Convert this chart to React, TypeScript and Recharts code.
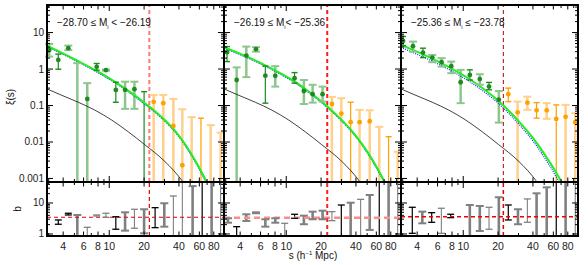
import React from 'react';
import { ComposedChart, XAxis, YAxis, Line, Scatter, ReferenceLine, ReferenceDot } from 'recharts';

type Pt = [number, number | null, number, number]; // [s, xi (null = below axis), lower, upper]
type Rng = [number, number, number]; // [s, lower, upper]
type Cv = [number, number][];

// ---------- axes ----------
const S_DOMAIN: [number, number] = [2.9, 98];
const XI_DOMAIN: [number, number] = [0.0008, 57];
const B_DOMAIN: [number, number] = [0.86, 47.5];
const sTicks = [3, 4, 5, 6, 7, 8, 9, 10, 20, 30, 40, 50, 60, 70, 80, 90];
const sTickLabels = [4, 6, 8, 10, 20, 40, 60, 80];
const xiTicks = [
  0.001, 0.002, 0.003, 0.004, 0.005, 0.006, 0.007, 0.008, 0.009,
  0.01, 0.02, 0.03, 0.04, 0.05, 0.06, 0.07, 0.08, 0.09,
  0.1, 0.2, 0.3, 0.4, 0.5, 0.6, 0.7, 0.8, 0.9,
  1, 2, 3, 4, 5, 6, 7, 8, 9, 10, 20, 30, 40, 50,
];
const xiTickLabels = [0.001, 0.01, 0.1, 1, 10];
const bTicks = [1, 2, 3, 4, 5, 6, 7, 8, 9, 10, 20, 30, 40];
const bTickLabels = [1, 10];

// ---------- model curves ----------
const curveS = [2.9, 3.98, 5.62, 7.94, 11.22, 15.85, 19.95, 25.1, 31.6, 39.8, 50.1, 63.1, 72.4];
const p1Model = [4.4, 2.69, 1.545, 0.859, 0.446, 0.212, 0.1205, 0.0678, 0.0348, 0.0152, 0.00526, 0.00145, 0.000598];
const p1ModelAlt = [4.2, 2.57, 1.47, 0.815, 0.423, 0.2, 0.114, 0.064, 0.0328, 0.0143, 0.0049, 0.00134, 0.00055];
const p2Model = [3.98, 2.64, 1.63, 0.935, 0.502, 0.235, 0.132, 0.0701, 0.0344, 0.015, 0.00545, 0.00161, 0.000701];
const p2ModelAlt = [3.8, 2.52, 1.55, 0.89, 0.477, 0.223, 0.125, 0.0665, 0.0326, 0.0142, 0.0051, 0.0015, 0.00065];
const p3Model = [4.6, 3.0, 1.815, 1.028, 0.542, 0.249, 0.137, 0.0686, 0.0313, 0.0131, 0.00474, 0.0015, 0.00069];
const p3ModelAlt = [3.9, 2.55, 1.55, 0.88, 0.465, 0.213, 0.117, 0.058, 0.0263, 0.0109, 0.0038, 0.00115, 0.0005];
const blackCurve: Cv = [[2.9, 0.285], [3.9, 0.19], [5.4, 0.123], [7.5, 0.075], [10.5, 0.04], [14.6, 0.019], [20.2, 0.0085], [30.3, 0.0029], [42.2, 0.0009], [48, 0.0005]];

// ---------- xi(s) measurements ----------
const p1DarkGreen: Pt[] = [[3.63, 1.78, 0.99, 2.57], [7.79, 1.15, 0.93, 1.42], [11.4, 0.268, 0.123, 0.435], [20.0, null, 0.0001, 0.24]];
const p1LightGreen: Pt[] = [[3.03, 3.35, 2.2, 4.9], [4.43, 3.73, 3.3, 4.4], [5.3, null, 0.0001, 1.45], [6.46, 0.152, 0.0001, 0.41], [9.37, 0.93, 0.9, 0.97], [13.7, 0.27, 0.081, 0.45], [16.5, 0.28, 0.081, 0.45]];
const p1Orange: Pt[] = [[62, null, 0.0001, 0.045]];
const p1LightOrange: Pt[] = [[24.2, 0.126, 0.0001, 0.195], [29.3, 0.116, 0.0001, 0.195], [35.8, 0.0275, 0.0001, 0.152], [42.8, 0.0023, 0.0001, 0.079], [51.5, null, 0.0001, 0.048], [75.2, null, 0.0001, 0.029], [91.6, null, 0.0001, 0.018]];

const p2DarkGreen: Pt[] = [[3.08, 2.9, 1.6, 4.13], [6.6, 0.66, 0.116, 1.2], [11.8, 0.56, 0.41, 0.8]];
const p2LightGreen: Pt[] = [[3.73, 0.5, 0.0001, 1.11], [4.52, 2.34, 0.6, 4.13], [5.48, 3.5, 3.0, 3.98], [8.04, 0.65, 0.33, 1.2], [14.2, 0.25, 0.11, 0.5], [16.9, 0.204, 0.12, 0.37], [20.6, 0.204, 0.128, 0.33]];
const p2Orange: Pt[] = [[36, 0.035, 0.0001, 0.123], [76.6, null, 0.0001, 0.014]];
const p2LightOrange: Pt[] = [[24.8, 0.11, 0.0001, 0.172], [29.9, 0.06, 0.0001, 0.158], [43, 0.035, 0.0001, 0.076], [52.6, 0.037, 0.0001, 0.074], [63.6, null, 0.0001, 0.026], [91.7, null, 0.0001, 0.0054]];

const p3DarkGreen: Pt[] = [[3.02, 5.9, 4.4, 7.8], [4.49, 2.83, 2.06, 3.73], [11.4, 0.69, 0.5, 0.95], [16.7, 0.33, 0.27, 0.43]];
const p3LightGreen: Pt[] = [[3.68, 4.24, 3.0, 5.66], [5.4, 2.06, 1.54, 2.44], [6.5, 1.54, 1.17, 1.99], [7.88, 1.2, 0.77, 1.6], [9.5, 0.435, 0.116, 0.95], [13.9, 0.53, 0.37, 0.72], [20.3, 0.145, 0.034, 0.25]];
const p3Orange: Pt[] = [[24.5, 0.204, 0.128, 0.3], [43, 0.074, 0.045, 0.12], [63.6, 0.043, 0.0001, 0.104]];
const p3LightOrange: Pt[] = [[29.5, 0.065, 0.0001, 0.128], [35.8, 0.12, 0.076, 0.175], [52.6, 0.074, 0.043, 0.116], [76.6, 0.049, 0.0001, 0.104], [92.8, 0.035, 0.0001, 0.0615]];

// ---------- bias b(s) ranges ----------
const p1bBlack: Rng[] = [[3.63, 2.06, 2.83], [4.43, 4.1, 4.66], [11.4, 1.42, 3.6], [24.9, 1.6, 7.06], [63.5, 0.5, 100]];
const p1bGrayThick: Rng[] = [[5.3, 0.5, 4.1], [13.7, 1.28, 5.0], [20, 1.05, 6.27], [29.9, 1.72, 9.8], [52.5, 0.5, 35], [76.6, 0.5, 100]];
const p1bGrayThin: Rng[] = [[6.46, 0.5, 1.64], [7.79, 3.8, 4.1], [9.37, 3.45, 4.66], [16.5, 1.53, 6.27], [35.8, 0.5, 16.8], [42.8, 0.5, 100], [91.6, 0.5, 100]];

const p2bBlack: Rng[] = [[3.73, 0.5, 1.72], [11.8, 3.21, 4.32], [29.9, 0.5, 8.6], [63.6, 0.5, 100]];
const p2bGrayThick: Rng[] = [[3.14, 2.31, 3.21], [4.52, 2.63, 4.32], [5.48, 4.66, 5.0], [6.6, 1.72, 2.98], [8.04, 2.31, 3.21], [14.2, 2.06, 3.9], [16.9, 2.98, 5.25], [20.6, 2.98, 5.65], [36, 0.5, 10.2], [52.6, 1.35, 18.1], [76.6, 0.5, 100]];
const p2bGrayThin: Rng[] = [[9.7, 0.5, 2.21], [24.8, 2.69, 5.25], [43.9, 0.5, 13.1], [91.7, 0.5, 100]];

const p3bBlack: Rng[] = [[3.63, 1.05, 7.26], [5.34, 2.38, 4.87], [7.79, 3.36, 4.32], [24.5, 2.83, 8.6], [63.6, 0.5, 100]];
const p3bGrayThick: Rng[] = [[4.43, 2.21, 5.25], [11.4, 0.5, 8.6], [13.9, 1.25, 8.0], [20.3, 0.5, 15.3], [29.7, 2.06, 6.27], [43, 0.5, 20.5], [52.6, 0.5, 32], [76.6, 0.5, 100]];
const p3bGrayThin: Rng[] = [[6.47, 1.05, 6.75], [16.7, 1.42, 7.26], [35.8, 2.38, 13.5], [92.8, 0.5, 100]];

const sCut = [22.2, 22.6, 22.2];
const bMean = [3.46, 3.36, 3.6];
const titlesPre = ['−28.70 ≤ M', '−26.19 ≤ M', '−25.36 ≤ M'];
const titlesPost = [' < −26.19', '< −25.36', ' ≤ −23.78'];

// ---------- layout / style ----------
const PANEL_LEFT = [47, 224, 401];
const PLOT_W = 177;
const LEFT_W = 47;
const RIGHT_M = 6;
const CH_W = LEFT_W + PLOT_W + RIGHT_M;
const TOP_PAD = 5;
const TOP_H = 177;
const BOT_TOP = 182;
const BOT_H = 54;
const X_H = 28;

const COL = {
  darkGreen: '#1f8a1f',
  lightGreen: '#8dc68d',
  orange: '#ffa000',
  lightOrange: '#ffd08c',
  model: '#1ff01f',
  blue: '#2020ff',
  gray: '#808080',
};
const altStyle = [
  { w: 1.4, dash: '1.5 1' },
  { w: 1.4, dash: '1.5 1' },
  { w: 1.2, dash: '1 1.2' },
];
const cutTopStyle = [
  { stroke: '#ff7b7b', w: 2, dash: '4 3' },
  { stroke: '#ff1a1a', w: 2, dash: '4 3' },
  { stroke: '#b00000', w: 1, dash: '4 3' },
];
const cutBotStyle = [
  { stroke: '#e00000', w: 1.2, dash: '4 3' },
  { stroke: '#ff2020', w: 2, dash: '4 3' },
  { stroke: '#e00000', w: 1.5, dash: '4 3' },
];
const meanStyle = [
  { stroke: '#e00000', w: 1.2, dash: '4 3' },
  { stroke: '#ff8c8c', w: 2.5, dash: '6 4' },
  { stroke: '#f00000', w: 1.5, dash: '4 3' },
];

const panels = [
  { dg: p1DarkGreen, lg: p1LightGreen, or: p1Orange, lo: p1LightOrange, model: p1Model, alt: p1ModelAlt, bk: p1bBlack, bg: p1bGrayThick, bt: p1bGrayThin },
  { dg: p2DarkGreen, lg: p2LightGreen, or: p2Orange, lo: p2LightOrange, model: p2Model, alt: p2ModelAlt, bk: p2bBlack, bg: p2bGrayThick, bt: p2bGrayThin },
  { dg: p3DarkGreen, lg: p3LightGreen, or: p3Orange, lo: p3LightOrange, model: p3Model, alt: p3ModelAlt, bk: p3bBlack, bg: p3bGrayThick, bt: p3bGrayThin },
];

const cv = (c: Cv) => c.map(([s, v]) => ({ s, v }));
const model = (vals: number[]) => vals.map((v, k) => ({ s: curveS[k], v }));
const marks = (pts: Pt[]) => pts.filter((p) => p[1] !== null).map((p) => ({ s: p[0], v: p[1] as number }));

function errEls(key: string, items: { s: number; lo: number; hi: number }[], color: string, w: number, capHalf: number, capW: number) {
  const els: any[] = [];
  const cap = (pr: any) => (
    <line x1={pr.cx - capHalf} x2={pr.cx + capHalf} y1={pr.cy} y2={pr.cy} stroke={color} strokeWidth={capW} />
  );
  items.forEach((it, i) => {
    els.push(
      <ReferenceLine key={`${key}v${i}`} segment={[{ x: it.s, y: it.lo }, { x: it.s, y: it.hi }]} stroke={color} strokeWidth={w} ifOverflow="hidden" />
    );
    els.push(<ReferenceDot key={`${key}h${i}`} x={it.s} y={it.hi} r={1} shape={cap} ifOverflow="discard" />);
    els.push(<ReferenceDot key={`${key}l${i}`} x={it.s} y={it.lo} r={1} shape={cap} ifOverflow="discard" />);
  });
  return els;
}
const fromPts = (pts: Pt[]) => pts.map((p) => ({ s: p[0], lo: p[2], hi: p[3] }));
const fromRng = (r: Rng[]) => r.map((p) => ({ s: p[0], lo: p[1], hi: p[2] }));

const makeYTick = (majors: number[], showLabels: boolean) => (props: any) => {
  const y = props.payload.coordinate;
  const v = props.payload.value;
  const major = majors.includes(v);
  const len = major ? 6 : 3;
  const x0 = LEFT_W;
  const x1 = LEFT_W + PLOT_W;
  return (
    <g>
      <line x1={x0} x2={x0 + len} y1={y} y2={y} stroke="#000" strokeWidth={1} />
      <line x1={x1} x2={x1 - len} y1={y} y2={y} stroke="#000" strokeWidth={1} />
      {showLabels && major ? (
        <text x={x0 - 3} y={y + 3.5} textAnchor="end" fontSize={10} fill="#222">{String(v)}</text>
      ) : null}
    </g>
  );
};

const makeXTick = (yBottom: number, yTop: number, showLabels: boolean) => (props: any) => {
  const x = props.payload.coordinate;
  const v = props.payload.value;
  const labelled = sTickLabels.includes(v);
  const len = v === 10 ? 6 : labelled ? 4.5 : 3;
  return (
    <g>
      <line x1={x} x2={x} y1={yBottom} y2={yBottom - len} stroke="#000" strokeWidth={1} />
      <line x1={x} x2={x} y1={yTop} y2={yTop + len} stroke="#000" strokeWidth={1} />
      {showLabels && labelled ? (
        <text x={x} y={yBottom + 13.5} textAnchor="middle" fontSize={10.5} fill="#222">{String(v)}</text>
      ) : null}
    </g>
  );
};

const dot = (color: string) => (pr: any) => <circle cx={pr.cx} cy={pr.cy} r={2.4} fill={color} />;

function TopChart({ i }: { i: number }) {
  const p = panels[i];
  const cs = cutTopStyle[i];
  const as = altStyle[i];
  return (
    <ComposedChart width={CH_W} height={TOP_PAD + TOP_H + 1} margin={{ top: TOP_PAD, right: RIGHT_M, bottom: 0, left: 0 }}>
      <XAxis type="number" dataKey="s" scale="log" domain={S_DOMAIN} allowDataOverflow ticks={sTicks} interval={0}
        tickLine={false} axisLine={false} height={1} tick={makeXTick(TOP_PAD + TOP_H, TOP_PAD, false)} />
      <YAxis type="number" dataKey="v" scale="log" domain={XI_DOMAIN} allowDataOverflow ticks={xiTicks} interval={0}
        tickLine={false} axisLine={false} width={LEFT_W} tick={makeYTick(xiTickLabels, i === 0)} />
      {errEls('lg', fromPts(p.lg), COL.lightGreen, 2.5, 4, 2)}
      {errEls('dg', fromPts(p.dg), COL.darkGreen, 1.2, 3, 1.4)}
      {errEls('lo', fromPts(p.lo), COL.lightOrange, 2.5, 4, 2)}
      {errEls('or', fromPts(p.or), COL.orange, 1.2, 3, 1.4)}
      <ReferenceLine x={sCut[i]} stroke={cs.stroke} strokeWidth={cs.w} strokeDasharray={cs.dash} ifOverflow="hidden" />
      <Line data={cv(blackCurve)} dataKey="v" type="monotone" dot={false} stroke="#111" strokeWidth={0.8} isAnimationActive={false} />
      <Line data={model(p.alt)} dataKey="v" type="monotone" dot={false} stroke={COL.blue} strokeWidth={as.w} strokeDasharray={as.dash} isAnimationActive={false} />
      <Line data={model(p.model)} dataKey="v" type="monotone" dot={false} stroke={COL.model} strokeWidth={2} isAnimationActive={false} />
      <Scatter data={marks([...p.dg, ...p.lg])} shape={dot(COL.darkGreen)} isAnimationActive={false} />
      <Scatter data={marks([...p.or, ...p.lo])} shape={dot(COL.orange)} isAnimationActive={false} />
    </ComposedChart>
  );
}

function BottomChart({ i }: { i: number }) {
  const p = panels[i];
  const cs = cutBotStyle[i];
  const ms = meanStyle[i];
  return (
    <ComposedChart width={CH_W} height={BOT_H + X_H} margin={{ top: 0, right: RIGHT_M, bottom: 0, left: 0 }}>
      <XAxis type="number" dataKey="s" scale="log" domain={S_DOMAIN} allowDataOverflow ticks={sTicks} interval={0}
        tickLine={false} axisLine={false} height={X_H} tick={makeXTick(BOT_H, 0, true)} />
      <YAxis type="number" dataKey="v" scale="log" domain={B_DOMAIN} allowDataOverflow ticks={bTicks} interval={0}
        tickLine={false} axisLine={false} width={LEFT_W} tick={makeYTick(bTickLabels, i === 0)} />
      {errEls('bt', fromRng(p.bt), COL.gray, 1.1, 3.5, 1.3)}
      {errEls('bg', fromRng(p.bg), COL.gray, 2.6, 4, 2)}
      {errEls('bk', fromRng(p.bk), '#000', 1.2, 3.5, 1.3)}
      <ReferenceLine y={bMean[i]} stroke={ms.stroke} strokeWidth={ms.w} strokeDasharray={ms.dash} ifOverflow="hidden" />
      <ReferenceLine x={sCut[i]} stroke={cs.stroke} strokeWidth={cs.w} strokeDasharray={cs.dash} ifOverflow="hidden" />
    </ComposedChart>
  );
}

const abs = (left: number, top: number, extra: any = {}) => ({ position: 'absolute' as const, left, top, ...extra });

export default function App() {
  return (
    <div style={{ position: 'absolute', left: 0, top: 0, width: 588, height: 265, background: '#fff', fontFamily: '"Liberation Sans", Arial, sans-serif', color: '#111', overflow: 'hidden' }}>
      {[0, 1, 2].map((i) => (
        <div key={`t${i}`} style={abs(PANEL_LEFT[i] - LEFT_W, 0)}>
          <TopChart i={i} />
        </div>
      ))}
      {[0, 1, 2].map((i) => (
        <div key={`b${i}`} style={abs(PANEL_LEFT[i] - LEFT_W, BOT_TOP)}>
          <BottomChart i={i} />
        </div>
      ))}
      {[0, 1, 2].map((i) => (
        <React.Fragment key={`f${i}`}>
          <div style={abs(PANEL_LEFT[i] - 1, TOP_PAD - 1, { width: PLOT_W + 2, height: TOP_H + 2, border: '2px solid #000', boxSizing: 'border-box' })} />
          <div style={abs(PANEL_LEFT[i] - 1, BOT_TOP - 1, { width: PLOT_W + 2, height: BOT_H + 2, border: '2px solid #000', boxSizing: 'border-box' })} />
          <div style={abs(PANEL_LEFT[i] + 10, 17, { fontSize: 10, lineHeight: '12px', whiteSpace: 'nowrap', color: '#111' })}>
            {titlesPre[i]}
            <sub style={{ fontSize: 6, verticalAlign: 'sub', lineHeight: 0 }}>i</sub>
            {titlesPost[i]}
          </div>
        </React.Fragment>
      ))}
      <div style={abs(-9, 91, { width: 40, textAlign: 'center', fontSize: 10, lineHeight: '12px', transform: 'rotate(-90deg)', whiteSpace: 'nowrap' })}>ξ(s)</div>
      <div style={abs(-2, 203, { width: 40, textAlign: 'center', fontSize: 10, lineHeight: '12px', transform: 'rotate(-90deg)', whiteSpace: 'nowrap' })}>b</div>
      <div style={abs(263, 250, { width: 100, textAlign: 'center', fontSize: 10, lineHeight: '12px', whiteSpace: 'nowrap' })}>
        s (h<sup style={{ fontSize: 6, lineHeight: 0 }}>−1</sup> Mpc)
      </div>
    </div>
  );
}
